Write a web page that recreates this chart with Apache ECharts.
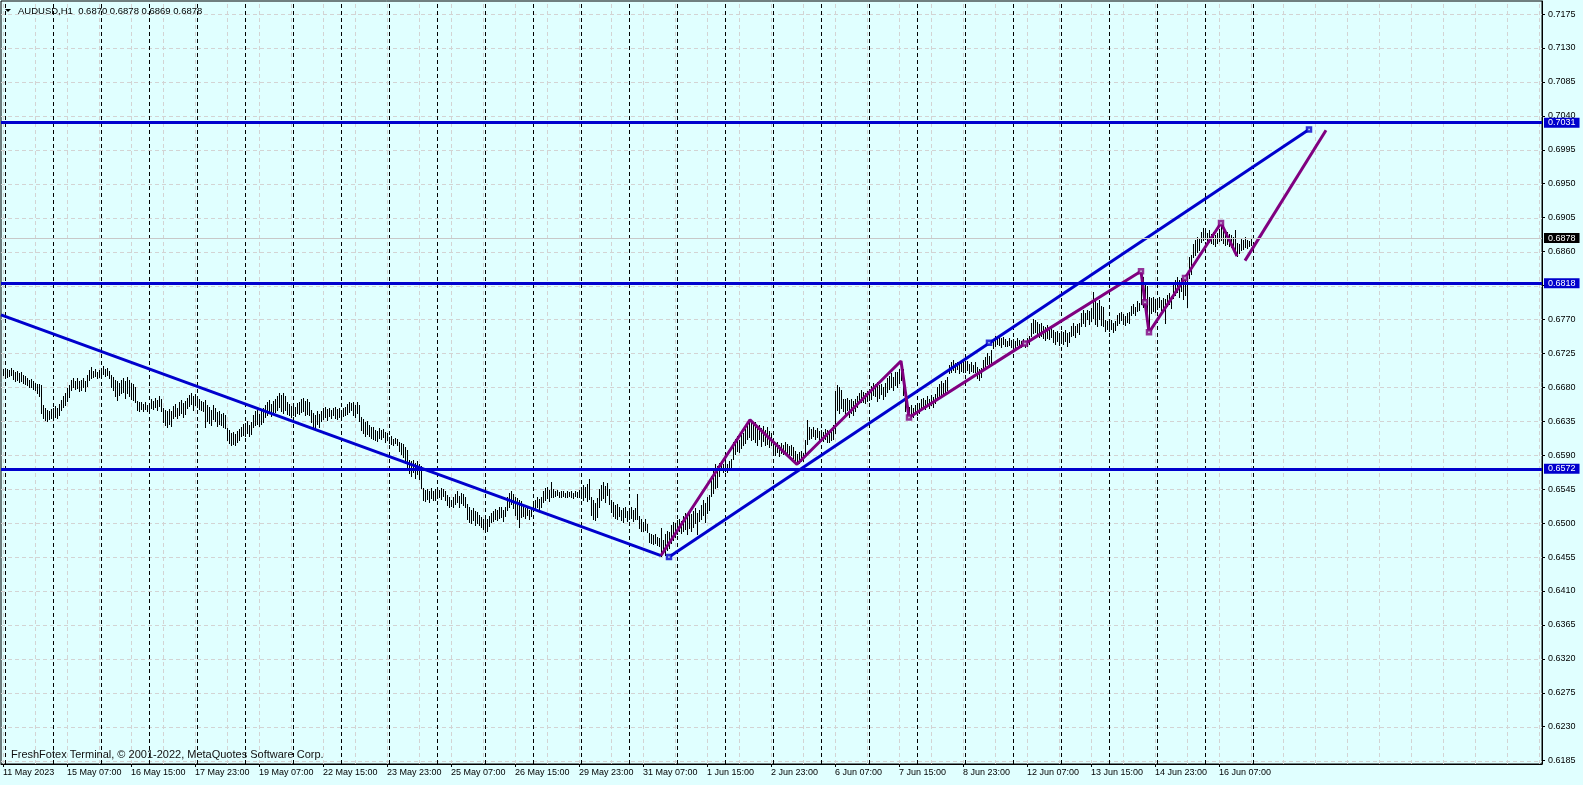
<!DOCTYPE html>
<html>
<head>
<meta charset="utf-8">
<title>AUDUSD,H1</title>
<script src="https://cdn.jsdelivr.net/npm/echarts@6/dist/echarts.min.js"></script>
<style>
  html, body { margin: 0; padding: 0; background: #e0ffff; }
  #chart { width: 1583px; height: 785px; }
</style>
</head>
<body>
<div id="chart"></div>
<script>
// AUDUSD H1, 11 May 2023 23:00 .. 16 Jun 2023 23:00 (one row per trading day)
const timeLabels = [
    '11 May 2023', '15 May 07:00', '16 May 15:00', '17 May 23:00', '19 May 07:00',
    '22 May 15:00', '23 May 23:00', '25 May 07:00', '26 May 15:00', '29 May 23:00',
    '31 May 07:00', '1 Jun 15:00', '2 Jun 23:00', '6 Jun 07:00', '7 Jun 15:00',
    '8 Jun 23:00', '12 Jun 07:00', '13 Jun 15:00', '14 Jun 23:00', '16 Jun 07:00'
];
const labelStep = 32;   // bars between time labels
const gridStep = 16;    // bars between vertical grid lines

// bar index of each 00:00 (period separators)
const daySeparators = [1, 25, 49, 73, 97, 121, 145, 169, 193, 217, 241, 265, 289, 313,
    337, 361, 385, 409, 433, 457, 481, 505, 529, 553, 577, 601, 625];

const priceTicks = [0.6185, 0.6230, 0.6275, 0.6320, 0.6365, 0.6410, 0.6455, 0.6500,
    0.6545, 0.6590, 0.6635, 0.6680, 0.6725, 0.6770, 0.6815, 0.6860, 0.6905, 0.6950,
    0.6995, 0.7040, 0.7085, 0.7130, 0.7175];

const barHigh = [
    0.6705,
    0.6706,0.6704,0.6703,0.6706,0.6703,0.6701,0.6702,0.6699,0.6700,0.6697,0.6695,0.6693,0.6690,0.6691,0.6688,0.6686,0.6685,0.6684,0.6683,0.6656,0.6652,0.6650,0.6648,0.6651,
    0.6653,0.6655,0.6652,0.6658,0.6663,0.6668,0.6672,0.6679,0.6683,0.6690,0.6693,0.6689,0.6692,0.6688,0.6690,0.6693,0.6689,0.6697,0.6703,0.6707,0.6702,0.6704,0.6701,0.6703,
    0.6705,0.6708,0.6704,0.6706,0.6702,0.6696,0.6694,0.6690,0.6688,0.6686,0.6690,0.6692,0.6689,0.6694,0.6690,0.6686,0.6684,0.6680,0.6662,0.6660,0.6661,0.6658,0.6660,0.6657,
    0.6659,0.6664,0.6662,0.6666,0.6663,0.6669,0.6665,0.6652,0.6650,0.6648,0.6651,0.6649,0.6655,0.6658,0.6652,0.6661,0.6663,0.6659,0.6662,0.6666,0.6670,0.6672,0.6668,0.6671,
    0.6669,0.6665,0.6662,0.6660,0.6663,0.6657,0.6654,0.6650,0.6656,0.6652,0.6647,0.6649,0.6645,0.6646,0.6643,0.6626,0.6623,0.6619,0.6621,0.6618,0.6622,0.6625,0.6628,0.6631,
    0.6633,0.6635,0.6630,0.6634,0.6644,0.6648,0.6650,0.6645,0.6649,0.6652,0.6656,0.6660,0.6663,0.6658,0.6662,0.6664,0.6668,0.6673,0.6670,0.6672,0.6669,0.6661,0.6658,0.6655,
    0.6657,0.6654,0.6659,0.6661,0.6665,0.6666,0.6662,0.6664,0.6660,0.6650,0.6646,0.6643,0.6648,0.6645,0.6649,0.6652,0.6654,0.6651,0.6653,0.6650,0.6652,0.6654,0.6651,0.6653,
    0.6650,0.6653,0.6654,0.6658,0.6661,0.6659,0.6660,0.6657,0.6660,0.6656,0.6641,0.6638,0.6634,0.6636,0.6630,0.6627,0.6628,0.6624,0.6622,0.6626,0.6623,0.6625,0.6621,0.6619,
    0.6614,0.6615,0.6612,0.6613,0.6611,0.6608,0.6606,0.6605,0.6601,0.6597,0.6584,0.6582,0.6584,0.6580,0.6583,0.6579,0.6576,0.6546,0.6544,0.6545,0.6543,0.6546,0.6542,0.6545,
    0.6546,0.6544,0.6546,0.6545,0.6543,0.6537,0.6534,0.6531,0.6535,0.6539,0.6542,0.6536,0.6540,0.6538,0.6534,0.6526,0.6522,0.6518,0.6520,0.6516,0.6515,0.6511,0.6508,0.6506,
    0.6509,0.6505,0.6510,0.6514,0.6516,0.6519,0.6517,0.6521,0.6522,0.6518,0.6522,0.6535,0.6540,0.6542,0.6538,0.6535,0.6533,0.6530,0.6529,0.6524,0.6520,0.6522,0.6518,0.6521,
    0.6528,0.6531,0.6535,0.6532,0.6534,0.6542,0.6546,0.6548,0.6544,0.6554,0.6545,0.6543,0.6544,0.6541,0.6543,0.6542,0.6540,0.6542,0.6541,0.6543,0.6540,0.6542,0.6541,0.6544,
    0.6546,0.6550,0.6548,0.6552,0.6558,0.6535,0.6530,0.6527,0.6533,0.6545,0.6550,0.6554,0.6549,0.6553,0.6545,0.6531,0.6528,0.6524,0.6526,0.6522,0.6518,0.6520,0.6522,0.6516,
    0.6519,0.6521,0.6517,0.6520,0.6539,0.6509,0.6505,0.6502,0.6506,0.6499,0.6487,0.6485,0.6484,0.6486,0.6482,0.6480,0.6493,0.6478,0.6486,0.6490,0.6488,0.6498,0.6502,0.6500,
    0.6504,0.6506,0.6503,0.6510,0.6513,0.6509,0.6515,0.6512,0.6516,0.6520,0.6514,0.6518,0.6524,0.6530,0.6527,0.6535,0.6537,0.6562,0.6570,0.6578,0.6576,0.6580,0.6582,0.6579,
    0.6581,0.6578,0.6582,0.6585,0.6608,0.6612,0.6615,0.6610,0.6617,0.6620,0.6625,0.6631,0.6637,0.6635,0.6632,0.6634,0.6628,0.6630,0.6626,0.6629,0.6624,0.6627,0.6622,0.6620,
    0.6608,0.6605,0.6607,0.6603,0.6606,0.6604,0.6608,0.6605,0.6602,0.6604,0.6601,0.6595,0.6592,0.6594,0.6596,0.6593,0.6610,0.6637,0.6628,0.6625,0.6627,0.6623,0.6626,0.6622,
    0.6624,0.6621,0.6625,0.6623,0.6620,0.6624,0.6630,0.6675,0.6683,0.6680,0.6677,0.6665,0.6664,0.6666,0.6663,0.6665,0.6662,0.6664,0.6668,0.6673,0.6676,0.6674,0.6672,0.6675,
    0.6678,0.6682,0.6686,0.6684,0.6687,0.6683,0.6685,0.6681,0.6686,0.6692,0.6695,0.6699,0.6694,0.6700,0.6701,0.6705,0.6715,0.6704,0.6678,0.6658,0.6654,0.6656,0.6652,0.6657,
    0.6655,0.6659,0.6664,0.6666,0.6663,0.6668,0.6665,0.6670,0.6667,0.6671,0.6681,0.6684,0.6688,0.6686,0.6690,0.6694,0.6710,0.6713,0.6716,0.6712,0.6714,0.6711,0.6715,0.6713,
    0.6712,0.6715,0.6711,0.6714,0.6710,0.6713,0.6707,0.6704,0.6706,0.6716,0.6720,0.6725,0.6722,0.6730,0.6744,0.6748,0.6746,0.6749,0.6745,0.6747,0.6744,0.6742,0.6745,0.6743,
    0.6744,0.6742,0.6745,0.6743,0.6741,0.6744,0.6742,0.6745,0.6748,0.6766,0.6771,0.6769,0.6767,0.6764,0.6765,0.6762,0.6760,0.6763,0.6758,0.6761,0.6756,0.6754,0.6755,0.6752,
    0.6755,0.6753,0.6756,0.6752,0.6754,0.6762,0.6765,0.6761,0.6764,0.6765,0.6779,0.6782,0.6778,0.6783,0.6781,0.6785,0.6806,0.6795,0.6792,0.6796,0.6788,0.6787,0.6769,0.6768,
    0.6767,0.6769,0.6766,0.6768,0.6776,0.6779,0.6780,0.6777,0.6775,0.6778,0.6780,0.6788,0.6791,0.6787,0.6794,0.6792,0.6834,0.6827,0.6820,0.6815,0.6800,0.6799,0.6800,0.6797,
    0.6798,0.6800,0.6796,0.6799,0.6797,0.6802,0.6805,0.6801,0.6819,0.6823,0.6827,0.6822,0.6825,0.6820,0.6826,0.6828,0.6853,0.6856,0.6870,0.6876,0.6880,0.6878,0.6886,0.6891,
    0.6889,0.6885,0.6888,0.6884,0.6886,0.6882,0.6885,0.6890,0.6898,0.6893,0.6889,0.6886,0.6884,0.6882,0.6880,0.6889,0.6872,0.6870,0.6877,0.6875,0.6879,0.6876,0.6874,0.6878
];

const barLow = [
    0.6697,
    0.6696,0.6694,0.6695,0.6697,0.6691,0.6688,0.6690,0.6687,0.6689,0.6686,0.6684,0.6683,0.6681,0.6680,0.6678,0.6677,0.6672,0.6668,0.6646,0.6640,0.6637,0.6636,0.6638,0.6640,
    0.6639,0.6641,0.6640,0.6643,0.6650,0.6654,0.6657,0.6662,0.6667,0.6676,0.6680,0.6678,0.6679,0.6675,0.6677,0.6681,0.6675,0.6682,0.6690,0.6693,0.6694,0.6695,0.6693,0.6694,
    0.6696,0.6698,0.6695,0.6697,0.6692,0.6680,0.6676,0.6668,0.6663,0.6670,0.6672,0.6674,0.6666,0.6673,0.6668,0.6665,0.6663,0.6660,0.6650,0.6648,0.6651,0.6649,0.6651,0.6648,
    0.6650,0.6652,0.6651,0.6654,0.6650,0.6655,0.6649,0.6634,0.6630,0.6628,0.6632,0.6629,0.6640,0.6642,0.6639,0.6644,0.6646,0.6641,0.6645,0.6652,0.6655,0.6658,0.6650,0.6656,
    0.6654,0.6651,0.6650,0.6648,0.6628,0.6636,0.6633,0.6630,0.6638,0.6635,0.6629,0.6632,0.6630,0.6628,0.6626,0.6610,0.6606,0.6604,0.6605,0.6604,0.6607,0.6610,0.6615,0.6617,
    0.6616,0.6619,0.6615,0.6618,0.6628,0.6630,0.6632,0.6629,0.6631,0.6634,0.6641,0.6644,0.6646,0.6642,0.6645,0.6647,0.6650,0.6654,0.6648,0.6646,0.6650,0.6645,0.6643,0.6641,
    0.6644,0.6642,0.6646,0.6645,0.6647,0.6648,0.6643,0.6645,0.6644,0.6634,0.6628,0.6623,0.6631,0.6627,0.6635,0.6638,0.6641,0.6637,0.6642,0.6639,0.6643,0.6640,0.6638,0.6641,
    0.6640,0.6642,0.6643,0.6645,0.6647,0.6650,0.6644,0.6641,0.6646,0.6635,0.6623,0.6620,0.6616,0.6618,0.6615,0.6613,0.6612,0.6610,0.6609,0.6613,0.6611,0.6614,0.6608,0.6610,
    0.6606,0.6605,0.6604,0.6606,0.6603,0.6596,0.6592,0.6588,0.6580,0.6575,0.6566,0.6562,0.6568,0.6560,0.6565,0.6558,0.6546,0.6531,0.6529,0.6532,0.6528,0.6533,0.6530,0.6531,
    0.6533,0.6535,0.6532,0.6536,0.6531,0.6524,0.6522,0.6523,0.6522,0.6525,0.6528,0.6522,0.6527,0.6524,0.6522,0.6506,0.6502,0.6500,0.6504,0.6498,0.6500,0.6497,0.6495,0.6492,
    0.6491,0.6490,0.6496,0.6502,0.6503,0.6505,0.6504,0.6507,0.6508,0.6503,0.6509,0.6517,0.6522,0.6526,0.6520,0.6511,0.6505,0.6495,0.6508,0.6510,0.6507,0.6511,0.6506,0.6509,
    0.6517,0.6519,0.6522,0.6518,0.6521,0.6528,0.6530,0.6533,0.6529,0.6535,0.6534,0.6536,0.6537,0.6534,0.6535,0.6536,0.6534,0.6535,0.6536,0.6535,0.6533,0.6536,0.6534,0.6535,
    0.6533,0.6530,0.6535,0.6529,0.6532,0.6511,0.6506,0.6504,0.6508,0.6522,0.6530,0.6533,0.6528,0.6537,0.6526,0.6515,0.6510,0.6507,0.6506,0.6509,0.6504,0.6502,0.6508,0.6503,
    0.6505,0.6507,0.6503,0.6506,0.6505,0.6493,0.6490,0.6489,0.6491,0.6488,0.6475,0.6473,0.6472,0.6474,0.6471,0.6470,0.6457,0.6460,0.6458,0.6465,0.6467,0.6474,0.6478,0.6482,
    0.6485,0.6489,0.6487,0.6490,0.6492,0.6486,0.6494,0.6489,0.6495,0.6500,0.6486,0.6503,0.6505,0.6511,0.6502,0.6513,0.6517,0.6536,0.6540,0.6546,0.6548,0.6563,0.6570,0.6568,
    0.6569,0.6568,0.6571,0.6570,0.6585,0.6592,0.6596,0.6594,0.6600,0.6603,0.6606,0.6612,0.6614,0.6610,0.6612,0.6608,0.6604,0.6611,0.6602,0.6609,0.6603,0.6605,0.6601,0.6603,
    0.6592,0.6590,0.6594,0.6589,0.6593,0.6591,0.6595,0.6592,0.6588,0.6590,0.6586,0.6581,0.6578,0.6580,0.6583,0.6582,0.6590,0.6605,0.6612,0.6613,0.6615,0.6611,0.6614,0.6610,
    0.6611,0.6609,0.6612,0.6608,0.6607,0.6610,0.6612,0.6620,0.6650,0.6646,0.6652,0.6648,0.6643,0.6650,0.6641,0.6646,0.6644,0.6649,0.6654,0.6659,0.6661,0.6660,0.6659,0.6662,
    0.6663,0.6665,0.6670,0.6668,0.6662,0.6666,0.6671,0.6664,0.6669,0.6674,0.6678,0.6681,0.6676,0.6683,0.6680,0.6686,0.6690,0.6670,0.6648,0.6642,0.6640,0.6643,0.6641,0.6645,
    0.6644,0.6646,0.6652,0.6654,0.6651,0.6656,0.6652,0.6657,0.6654,0.6659,0.6663,0.6666,0.6670,0.6668,0.6673,0.6676,0.6699,0.6701,0.6703,0.6700,0.6704,0.6699,0.6702,0.6700,
    0.6701,0.6703,0.6699,0.6702,0.6700,0.6701,0.6692,0.6690,0.6694,0.6705,0.6708,0.6711,0.6707,0.6712,0.6732,0.6735,0.6737,0.6736,0.6733,0.6738,0.6735,0.6735,0.6736,0.6734,
    0.6735,0.6734,0.6736,0.6735,0.6733,0.6736,0.6734,0.6735,0.6737,0.6748,0.6752,0.6754,0.6749,0.6747,0.6748,0.6745,0.6743,0.6746,0.6744,0.6747,0.6740,0.6738,0.6742,0.6736,
    0.6739,0.6737,0.6741,0.6735,0.6740,0.6748,0.6750,0.6747,0.6753,0.6751,0.6762,0.6766,0.6761,0.6770,0.6764,0.6768,0.6772,0.6764,0.6761,0.6770,0.6763,0.6762,0.6755,0.6757,
    0.6755,0.6757,0.6754,0.6756,0.6763,0.6766,0.6769,0.6764,0.6763,0.6767,0.6766,0.6776,0.6779,0.6776,0.6781,0.6783,0.6790,0.6786,0.6779,0.6780,0.6754,0.6778,0.6781,0.6780,
    0.6784,0.6786,0.6783,0.6785,0.6765,0.6788,0.6790,0.6785,0.6798,0.6803,0.6806,0.6800,0.6808,0.6797,0.6802,0.6787,0.6825,0.6830,0.6853,0.6856,0.6860,0.6862,0.6873,0.6876,
    0.6877,0.6874,0.6873,0.6872,0.6870,0.6868,0.6871,0.6874,0.6876,0.6871,0.6869,0.6870,0.6868,0.6866,0.6862,0.6860,0.6854,0.6858,0.6862,0.6864,0.6866,0.6865,0.6867,0.6869
];

// horizontal levels and the bid line
const levels = [0.7031, 0.6818, 0.6572];
const lastPrice = 0.6878;

// trend lines, [bar index, price]
const trendDown = [[-1, 0.6776], [329, 0.6457]];
const trendUp = [[333, 0.6455], [653, 0.7022]];
const trendUpMarks = [[333, 0.6455], [493, 0.6739], [653, 0.7022]];

// zigzag path and its handles
const zigzag = [[329, 0.6457], [373.5, 0.6637], [397, 0.6578], [449, 0.6715], [453, 0.6640],
    [511, 0.6738], [569, 0.6834], [571, 0.6793], [573, 0.6753], [591, 0.6825], [609, 0.6898], [617, 0.6854]];
const zigzagMarks = [[453, 0.6640], [511, 0.6738], [569, 0.6834], [571, 0.6793], [573, 0.6753],
    [591, 0.6825], [609, 0.6898]];
const projection = [[621, 0.6848], [661.5, 0.7021]];

const BLUE = '#0000cd';
const PURPLE = '#800080';
const BG = '#e0ffff';
const FONT = '"Liberation Sans", Arial, sans-serif';

// axis extent: 2 px per bar, right price scale
const xMin = -1, xMax = 769.5;
const yMin = 0.61806, yMax = 0.71923;

const labelPositions = timeLabels.map((_, k) => k * labelStep);
const gridPositions = [];
for (let i = 0; i <= xMax; i += gridStep) gridPositions.push(i);

if (barHigh.length !== barLow.length) {
    console.warn('bar arrays differ', barHigh.length, barLow.length);
}
const bars = barHigh.map((h, i) => [i, barLow[i], h]);

function verticalLine(color, dash) {
    return function (params, api) {
        const a = api.coord([api.value(0), yMin]);
        const b = api.coord([api.value(0), yMax]);
        const x = Math.round(a[0]) + 0.5;
        return {
            type: 'line',
            shape: { x1: x, y1: a[1], x2: x, y2: b[1] },
            style: { stroke: color, lineWidth: 1, lineDash: dash }
        };
    };
}

function horizontalLine(params, api) {
    const a = api.coord([xMin, api.value(1)]);
    const b = api.coord([xMax, api.value(1)]);
    const y = Math.round(a[1]) + 0.5;
    return {
        type: 'line',
        shape: { x1: a[0], y1: y, x2: b[0], y2: y },
        style: { stroke: '#d3d3d3', lineWidth: 1, lineDash: [4, 3] }
    };
}

// one pixel wide high-low stroke, snapped to the pixel grid
function renderBar(params, api) {
    const lo = api.coord([api.value(0), api.value(1)]);
    const hi = api.coord([api.value(0), api.value(2)]);
    const x = Math.round(lo[0]);
    const top = Math.round(hi[1]);
    const h = Math.max(1, Math.round(lo[1]) - top + 1);
    return {
        type: 'rect',
        shape: { x: x, y: top, width: 1, height: h },
        style: { fill: '#000' }
    };
}

function priceTag(bg) {
    return {
        show: true,
        position: 'end',
        distance: 2,
        formatter: p => Number(p.value).toFixed(4),
        color: '#fff',
        backgroundColor: bg,
        fontFamily: FONT,
        fontSize: 9,
        lineHeight: 9,
        padding: [1, 4, 0, 4]
    };
}

const chart = echarts.init(document.getElementById('chart'), null, { renderer: 'canvas' });

chart.setOption({
    animation: false,
    backgroundColor: BG,
    grid: {
        left: 1, right: 41, top: 1, bottom: 21,
        show: true, backgroundColor: BG, borderColor: '#000', borderWidth: 1
    },
    xAxis: {
        type: 'value',
        min: xMin, max: xMax,
        axisLine: { show: true, onZero: false, lineStyle: { color: '#000', width: 1 } },
        axisTick: { show: true, customValues: labelPositions, length: 3, lineStyle: { color: '#000' } },
        axisLabel: {
            customValues: labelPositions,
            formatter: v => timeLabels[Math.round(v / labelStep)] || '',
            align: 'left',
            margin: 4,
            color: '#000',
            fontFamily: FONT,
            fontSize: 9
        },
        splitLine: { show: false }
    },
    yAxis: {
        type: 'value',
        position: 'right',
        min: yMin, max: yMax,
        axisLine: { show: true, onZero: false, lineStyle: { color: '#000', width: 1 } },
        axisTick: { show: true, customValues: priceTicks, length: 3, lineStyle: { color: '#000' } },
        axisLabel: {
            customValues: priceTicks,
            formatter: v => v.toFixed(4),
            margin: 6,
            color: '#000',
            fontFamily: FONT,
            fontSize: 9
        },
        splitLine: { show: false }
    },
    graphic: [
        { type: 'polygon', shape: { points: [[5, 9], [11, 9], [8, 12]] }, style: { fill: '#000' }, z: 10 },
        {
            type: 'text', x: 18, y: 11, z: 10,
            style: { text: 'AUDUSD,H1  0.6870 0.6878 0.6869 0.6878', fill: '#000', font: '9.5px ' + FONT, verticalAlign: 'middle' }
        },
        {
            type: 'text', x: 11, y: 755, z: 10,
            style: { text: 'FreshFotex Terminal, \u00a9 2001-2022, MetaQuotes Software Corp.', fill: '#111', font: '11px ' + FONT, verticalAlign: 'middle' }
        }
    ],
    series: [
        {
            name: 'hgrid', type: 'custom', z: 1, silent: true,
            renderItem: horizontalLine,
            data: priceTicks.map(v => [0, v])
        },
        {
            name: 'vgrid', type: 'custom', z: 1, silent: true,
            renderItem: verticalLine('#d3d3d3', [4, 3]),
            data: gridPositions.map(v => [v, yMin])
        },
        {
            name: 'separators', type: 'custom', z: 1, silent: true,
            renderItem: verticalLine('#000', [4, 3]),
            data: daySeparators.map(v => [v, yMin])
        },
        {
            name: 'bid', type: 'line', z: 1, silent: true, data: [],
            markLine: {
                silent: true, symbol: ['none', 'none'], animation: false, precision: 4,
                data: [{ yAxis: lastPrice, lineStyle: { color: '#c8c8c8', width: 1, type: 'solid' }, label: priceTag('#000') }]
            }
        },
        {
            name: 'AUDUSD', type: 'custom', z: 2, silent: true,
            renderItem: renderBar,
            data: bars
        },
        {
            name: 'levels', type: 'line', z: 3, silent: true, data: [],
            markLine: {
                silent: true, symbol: ['none', 'none'], animation: false, precision: 4,
                data: levels.map(v => ({ yAxis: v, lineStyle: { color: BLUE, width: 3, type: 'solid' }, label: priceTag(BLUE) }))
            }
        },
        {
            name: 'trendDown', type: 'line', z: 4, silent: true, showSymbol: false,
            lineStyle: { color: BLUE, width: 3 }, data: trendDown
        },
        {
            name: 'trendUp', type: 'line', z: 4, silent: true, showSymbol: false,
            lineStyle: { color: BLUE, width: 3 }, data: trendUp
        },
        {
            name: 'zigzag', type: 'line', z: 4, silent: true, showSymbol: false,
            lineStyle: { color: PURPLE, width: 3 }, data: zigzag
        },
        {
            name: 'projection', type: 'line', z: 4, silent: true, showSymbol: false,
            lineStyle: { color: PURPLE, width: 3 }, data: projection
        },
        {
            name: 'trendUpMarks', type: 'scatter', z: 5, silent: true,
            symbol: 'rect', symbolSize: 4,
            itemStyle: { color: BG, borderColor: BLUE, borderWidth: 2.5 },
            data: trendUpMarks
        },
        {
            name: 'zigzagMarks', type: 'scatter', z: 5, silent: true,
            symbol: 'rect', symbolSize: 4,
            itemStyle: { color: BG, borderColor: PURPLE, borderWidth: 2.5 },
            data: zigzagMarks
        }
    ]
});

window.addEventListener('resize', () => chart.resize());
</script>
</body>
</html>
